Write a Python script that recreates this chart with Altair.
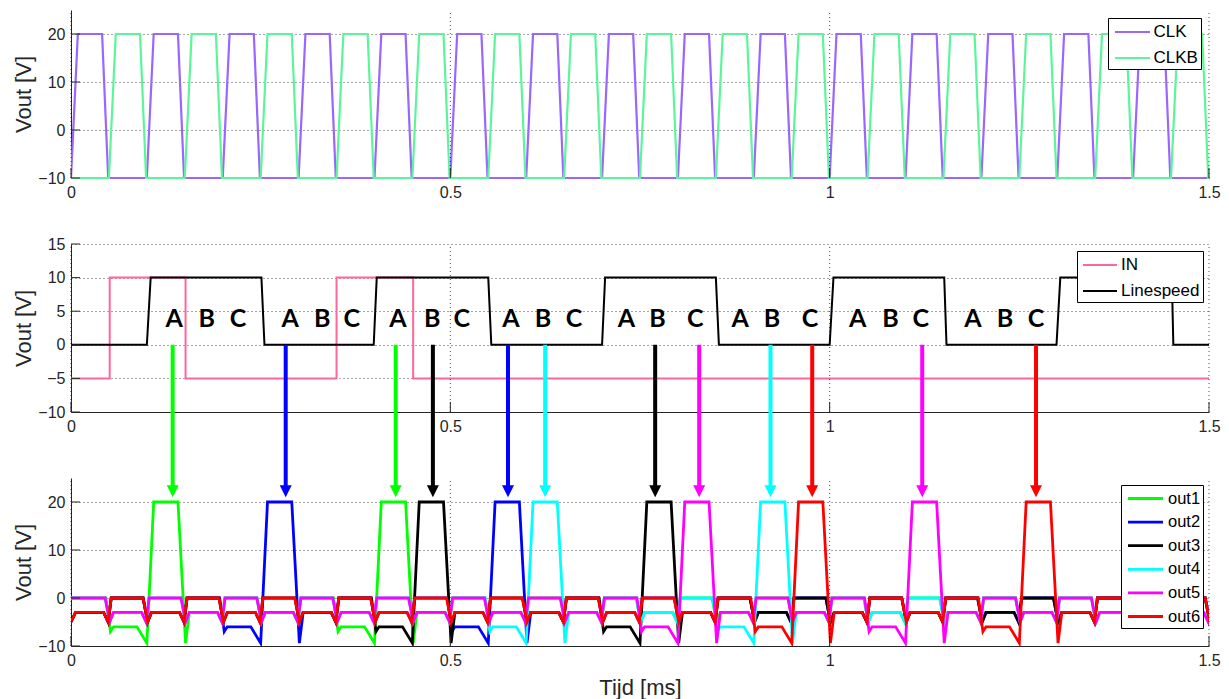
import altair as alt
import pandas as pd

# ------------------------------------------------------------------ layout
W = 1138                       # plot width
H = 168                        # height of each panel
GAP = 66                       # gap between panels
HT = 3 * H + 2 * GAP           # total plot height
P_TOP = [0, H + GAP, 2 * (H + GAP)]
AXIS_COLOR = "#262626"
FONT = "Liberation Sans"

X_DOMAIN = [0, 1.5]
X_TICKS = [0, 0.5, 1, 1.5]

# ------------------------------------------------------------------ panel 1: clocks
CLK_STARTS = [0.00, 0.10, 0.20, 0.30, 0.40, 0.50, 0.60, 0.70, 0.80, 0.90, 1.00, 1.10, 1.20, 1.30, 1.40]
CLKB_STARTS = [0.05, 0.15, 0.25, 0.35, 0.45, 0.55, 0.65, 0.75, 0.85, 0.95, 1.05, 1.15, 1.25, 1.35, 1.45]
CLK_EDGE_T = [0.000, 0.009, 0.041, 0.049]     # rise start, top start, top end, fall end
CLK_EDGE_V = [-10, 20, 20, -10]
P1_DOMAIN = [-10, 25]
P1_TICKS = [-10, 0, 10, 20]
P1_NAMES = ["CLK", "CLKB"]
P1_COLORS = ["#9966ff", "#5cf59a"]

# ------------------------------------------------------------------ panel 2: IN / Linespeed
IN_T = [0.000, 0.051, 0.051, 0.151, 0.151, 0.350, 0.350, 0.451, 0.451, 1.500]
IN_V = [-5, -5, 10, 10, -5, -5, 10, 10, -5, -5]
LS_T = [0.000, 0.100, 0.105, 0.251, 0.255, 0.399, 0.403, 0.550, 0.554, 0.700, 0.704,
        0.850, 0.854, 1.000, 1.005, 1.151, 1.154, 1.299, 1.304, 1.451, 1.453, 1.500]
LS_V = [0, 0, 10, 10, 0, 0, 10, 10, 0, 0, 10, 10, 0, 0, 10, 10, 0, 0, 10, 10, 0, 0]
P2_DOMAIN = [-10, 15]
P2_TICKS = [-10, -5, 0, 5, 10, 15]
P2_NAMES = ["IN", "Linespeed"]
P2_COLORS = ["#ff6699", "#000000"]

ABC_T = [0.136, 0.179, 0.220, 0.289, 0.331, 0.370, 0.431, 0.476, 0.515,
         0.580, 0.622, 0.663, 0.732, 0.773, 0.823, 0.882, 0.924, 0.974,
         1.037, 1.080, 1.120, 1.189, 1.231, 1.272]
ABC_TEXT = ["A", "B", "C"] * 8
ABC_LEVEL = 3.9

ARROW_T = [0.134, 0.283, 0.428, 0.477, 0.576, 0.625, 0.770, 0.828, 0.922, 0.977, 1.122, 1.272]
ARROW_OUT = ["out1", "out2", "out1", "out3", "out2", "out4", "out3", "out5", "out4", "out6", "out5", "out6"]
ARROW_FROM_V = 0.0      # arrows leave the Linespeed low level of panel 2
ARROW_TIP_V3 = 21.0     # and point just above the 20 V pulse tops of panel 3
ARROW_HEAD_PX = 12

# ------------------------------------------------------------------ panel 3: outputs
# state per 0.05 ms half period:  0 -> 0 V,  3 -> -3 V,  6 -> -6 V (before a pulse),  P -> 20 V pulse
OUT_NAMES = ["out1", "out2", "out3", "out4", "out5", "out6"]
OUT_COLORS = ["#00ff00", "#0000ff", "#000000", "#00ffff", "#ff00ff", "#ff0000"]
OUT_STATES = {
    "out1": "06P30306P3" + "03030303030303030303",
    "out2": "30306P30306P" + "303030303030303030",
    "out3": "303030306P30306P" + "30303030303030",
    "out4": "03030303030" + "6P30306P" + "30303030303",
    "out5": "030303030303030" + "6P30306P" + "3030303",
    "out6": "303030303030303030" + "6P30306P" + "3030",
}
HALF = 0.05
LEVEL = {"0": 0.0, "3": -3.0, "6": -6.0, "P": 20.0}
DIP = -5.0
PRE_DIP = -7.0
PULSE_FOOT = -9.4
P3_DOMAIN = [-10, 25]
P3_TICKS = [-10, 0, 10, 20]


def transition(a, b, tb):
    if a == "P":
        return [(tb - 0.009, 20.0), (tb + 0.001, PULSE_FOOT), (tb + 0.006, LEVEL[b])]
    if b == "P":
        return [(tb - 0.013, LEVEL[a]), (tb, PULSE_FOOT), (tb + 0.009, 20.0)]
    if b == "6":
        return [(tb - 0.004, LEVEL[a]), (tb + 0.002, PRE_DIP), (tb + 0.006, LEVEL["6"])]
    if a == "3" and b == "0":
        return [(tb - 0.007, LEVEL[a]), (tb - 0.001, DIP), (tb + 0.003, LEVEL[b])]
    return [(tb - 0.005, LEVEL[a]), (tb + 0.001, DIP), (tb + 0.006, LEVEL[b])]


def out_points(states):
    seq = list(states) + [states[0]]
    if seq[0] == "3":
        pts = [(0.0, DIP), (0.006, LEVEL["3"])]
    else:
        pts = [(0.0, LEVEL[seq[0]])]
    for k in range(1, len(seq)):
        pts += transition(seq[k - 1], seq[k], k * HALF)
    return pts


def clock_points(starts):
    pts = [] if starts[0] == 0 else [(0.0, -10.0)]
    for s in starts:
        for dt, v in zip(CLK_EDGE_T, CLK_EDGE_V):
            pts.append((round(s + dt, 4), v))
    pts.append((1.5, -10.0))
    return pts


# ------------------------------------------------------------------ tables
rows = []
for name, starts in zip(P1_NAMES, [CLK_STARTS, CLKB_STARTS]):
    for i, (t, v) in enumerate(clock_points(starts)):
        rows.append({"t": t, "v": v, "sig": name, "i": i})
df1 = pd.DataFrame(rows)

rows = []
for name, ts, vs in [("IN", IN_T, IN_V), ("Linespeed", LS_T, LS_V)]:
    for i, (t, v) in enumerate(zip(ts, vs)):
        rows.append({"t": t, "v": v, "sig": name, "i": i})
df2 = pd.DataFrame(rows)

rows = []
for name in OUT_NAMES:
    for i, (t, v) in enumerate(out_points(OUT_STATES[name])):
        rows.append({"t": t, "v": v, "sig": name, "i": i})
df3 = pd.DataFrame(rows)

df_abc = pd.DataFrame({"t": ABC_T, "txt": ABC_TEXT, "v": [ABC_LEVEL] * len(ABC_T)})

px2 = H / (P2_DOMAIN[1] - P2_DOMAIN[0])
px3 = H / (P3_DOMAIN[1] - P3_DOMAIN[0])
tip_px = P_TOP[2] + (P3_DOMAIN[1] - ARROW_TIP_V3) * px3          # absolute pixel of arrow tip
tip_v2 = P2_DOMAIN[1] - (tip_px - P_TOP[1]) / px2                  # same point in panel-2 volts
head_v2 = tip_v2 + (ARROW_HEAD_PX / 2) / px2
color_of = dict(zip(OUT_NAMES, OUT_COLORS))
df_arrow = pd.DataFrame({
    "t": ARROW_T,
    "out": ARROW_OUT,
    "col": [color_of[o] for o in ARROW_OUT],
    "v0": [ARROW_FROM_V] * len(ARROW_T),
    "v1": [head_v2] * len(ARROW_T),
})


# ------------------------------------------------------------------ helpers
def xscale():
    return alt.Scale(domain=X_DOMAIN, nice=False, zero=False)


def yscale(dom, i):
    return alt.Scale(domain=dom, range=[P_TOP[i] + H, P_TOP[i]], nice=False, zero=False)


def x_axis(i, title=None):
    kw = dict(orient="bottom", offset=P_TOP[i] + H - HT, values=X_TICKS, format="~g",
              grid=False, ticks=False, tickSize=0, labelFlush=False, labelOverlap=False,
              labelPadding=6, title=title)
    if title:
        kw.update(titleY=41, titleBaseline="middle")
    return alt.Axis(**kw)


def y_axis(ticks):
    return alt.Axis(orient="left", values=ticks, grid=True, ticks=False, tickSize=0,
                    labelFlush=False, labelOverlap=False, labelPadding=6, title="Vout [V]",
                    titleX=-48, titleAngle=270, titleAlign="center", titleBaseline="middle")


def legend(x, y, sw, row_gap, pad, line_start, line_len, text_start, font_size, row_h=22):
    side = row_h - sw - 0.3
    k = (line_len / 2) / (side / 2)
    return alt.Legend(
        title=None, orient="none", legendX=x, legendY=y,
        strokeColor="#000000", fillColor="#ffffff", padding=pad, cornerRadius=0,
        symbolType=f"M{-k:.3f},0H{k:.3f}", symbolSize=side * side, symbolStrokeWidth=sw,
        symbolOffset=line_start + line_len / 2 - pad - row_h / 2,
        labelOffset=text_start - pad - row_h - 10,
        labelFont=FONT, labelFontSize=font_size, labelColor="#000000", labelLimit=0,
        rowPadding=row_gap)


def decorations(dom, yticks, i):
    """dotted vertical grid lines and inward tick marks of panel i (no axes of their own)"""
    g = pd.DataFrame({"t": X_TICKS, "lo": [dom[0]] * len(X_TICKS), "hi": [dom[1]] * len(X_TICKS)})
    grid = alt.Chart(g).mark_rule(color="#000000", opacity=0.7, strokeDash=[1, 3], strokeWidth=1).encode(
        x=alt.X("t:Q", scale=xscale()),
        y=alt.Y("lo:Q", scale=yscale(dom, i)), y2="hi:Q")
    yt = alt.Chart(pd.DataFrame({"v": yticks})).mark_rule(color=AXIS_COLOR, strokeWidth=1).encode(
        y=alt.Y("v:Q", scale=yscale(dom, i)), x=alt.value(0), x2=alt.value(9))
    xt = alt.Chart(pd.DataFrame({"t": X_TICKS})).mark_rule(color=AXIS_COLOR, strokeWidth=1).encode(
        x=alt.X("t:Q", scale=xscale()),
        y=alt.value(P_TOP[i] + H), y2=alt.value(P_TOP[i] + H - 10))
    return [grid, yt, xt]


# ------------------------------------------------------------------ panel 1
p1_lines = alt.Chart(df1).mark_line(strokeWidth=2.2, clip=True).encode(
    x=alt.X("t:Q", scale=xscale(), axis=x_axis(0)),
    y=alt.Y("v:Q", scale=yscale(P1_DOMAIN, 0), axis=y_axis(P1_TICKS)),
    color=alt.Color("sig:N", scale=alt.Scale(domain=P1_NAMES, range=P1_COLORS),
                    legend=legend(1037, 8, 2.2, 7, 3, 7, 35, 45, 17)),
    order="i:Q",
)
p1 = alt.layer(p1_lines, *decorations(P1_DOMAIN, P1_TICKS, 0))

# ------------------------------------------------------------------ panel 2
p2_lines = alt.Chart(df2).mark_line(strokeWidth=2, clip=True).encode(
    x=alt.X("t:Q", scale=xscale(), axis=x_axis(1)),
    y=alt.Y("v:Q", scale=yscale(P2_DOMAIN, 1), axis=y_axis(P2_TICKS)),
    color=alt.Color("sig:N", scale=alt.Scale(domain=P2_NAMES, range=P2_COLORS),
                    legend=legend(1006, P_TOP[1] + 7, 2, 7, 3, 6, 34, 45, 17)),
    order="i:Q",
)
p2_text = alt.Chart(df_abc).mark_text(font="Lato", fontWeight="bold", fontSize=25,
                                      color="#000000", baseline="middle", align="center").encode(
    x=alt.X("t:Q", scale=xscale()),
    y=alt.Y("v:Q", scale=yscale(P2_DOMAIN, 1)),
    text="txt:N",
)
p2_shaft = alt.Chart(df_arrow).mark_rule(strokeWidth=4, clip=False).encode(
    x=alt.X("t:Q", scale=xscale()),
    y=alt.Y("v0:Q", scale=yscale(P2_DOMAIN, 1)),
    y2="v1:Q",
    stroke=alt.Stroke("col:N", scale=None, legend=None),
)
p2_head = alt.Chart(df_arrow).mark_point(shape="M-1,-1L1,-1L0,1Z", filled=True, opacity=1,
                                         size=ARROW_HEAD_PX ** 2, strokeWidth=0, clip=False).encode(
    x=alt.X("t:Q", scale=xscale()),
    y=alt.Y("v1:Q", scale=yscale(P2_DOMAIN, 1)),
    fill=alt.Fill("col:N", scale=None, legend=None),
)
p2 = alt.layer(p2_lines, *decorations(P2_DOMAIN, P2_TICKS, 1), p2_text, p2_shaft, p2_head)

# ------------------------------------------------------------------ panel 3
p3_lines = alt.Chart(df3).mark_line(strokeWidth=2.8, clip=True).encode(
    x=alt.X("t:Q", scale=xscale(), axis=x_axis(2, "Tijd [ms]")),
    y=alt.Y("v:Q", scale=yscale(P3_DOMAIN, 2), axis=y_axis(P3_TICKS)),
    color=alt.Color("sig:N", scale=alt.Scale(domain=OUT_NAMES, range=OUT_COLORS),
                    legend=legend(1050, P_TOP[2] + 7, 2.8, 3.6, 2.5, 7, 35, 46, 16.5)),
    order="i:Q",
)
p3 = alt.layer(p3_lines, *decorations(P3_DOMAIN, P3_TICKS, 2))

chart = alt.layer(p1, p2, p3).resolve_scale(
    x="independent", y="independent", color="independent"
).resolve_axis(x="independent", y="independent").resolve_legend(color="independent").properties(
    width=W, height=HT,
    padding={"left": 71, "top": 10, "right": 20, "bottom": 53},
    autosize=alt.AutoSizeParams(type="none"),
    background="#ffffff",
).configure_view(stroke="transparent").configure_axis(
    labelFont=FONT, labelFontSize=16, labelColor=AXIS_COLOR,
    titleFont=FONT, titleFontSize=22, titleFontWeight="normal", titleColor=AXIS_COLOR,
    domainColor=AXIS_COLOR, domainWidth=1,
    gridColor="#000000", gridOpacity=0.7, gridDash=[1, 3], gridWidth=1,
)

chart.save("out.html", embed_options={"renderer": "svg", "actions": False})
